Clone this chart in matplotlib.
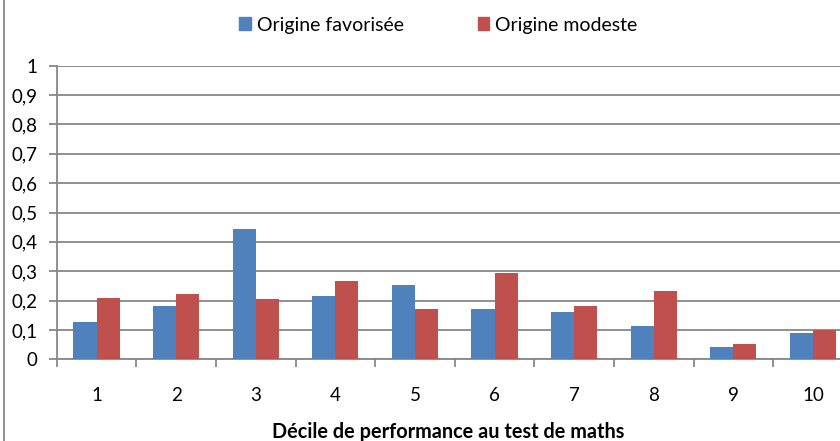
import numpy as np
import matplotlib
matplotlib.use("Agg")
import matplotlib.pyplot as plt
from matplotlib.patches import Patch
from matplotlib.lines import Line2D

plt.rcParams['font.family'] = ['Lato', 'DejaVu Sans']

deciles = ['1', '2', '3', '4', '5', '6', '7', '8', '9', '10']
favorisee = [0.127, 0.181, 0.444, 0.215, 0.253, 0.171, 0.161, 0.113, 0.042, 0.090]
modeste = [0.209, 0.222, 0.205, 0.266, 0.171, 0.294, 0.181, 0.233, 0.052, 0.100]
yticks = [0, 0.1, 0.2, 0.3, 0.4, 0.5, 0.6, 0.7, 0.8, 0.9, 1]
ylabels = ['0', '0,1', '0,2', '0,3', '0,4', '0,5', '0,6', '0,7', '0,8', '0,9', '1']

blue = '#4F81BD'
red = '#C0504D'
grey = '#878787'

fig = plt.figure(figsize=(8.4, 4.41), dpi=100)
ax = fig.add_axes([56.7 / 840, 1 - 359.3 / 441, 796 / 840, 293.6 / 441])

x = np.arange(len(deciles))
w = 0.29
ax.bar(x - w / 2, favorisee, w, color=blue, zorder=3)
ax.bar(x + w / 2, modeste, w, color=red, zorder=3)

ax.set_xlim(-0.5, len(deciles) - 0.5)
ax.set_ylim(0, 1)
ax.set_yticks(yticks)
ax.set_yticklabels(ylabels, fontsize=13.5)
ax.yaxis.grid(True, color=grey, linewidth=1.3, zorder=0)

# category ticks between groups, labels at the centres
ax.set_xticks(np.arange(len(deciles) + 1) - 0.5)
ax.set_xticklabels([])
ax.set_xticks(x, minor=True)
ax.set_xticklabels(deciles, minor=True, fontsize=13.5)
ax.tick_params(axis='x', which='major', length=6, width=1.3, color=grey)
ax.tick_params(axis='x', which='minor', length=0, pad=20)
ax.tick_params(axis='y', length=6, width=1.3, color=grey, pad=8)

for s in ['top', 'right']:
    ax.spines[s].set_visible(False)
for s in ['left', 'bottom']:
    ax.spines[s].set_color(grey)
    ax.spines[s].set_linewidth(1.3)

fig.text(448 / 840, 1 - 432 / 441, 'Décile de performance au test de maths',
         ha='center', va='center', fontsize=14.3, fontweight='bold')

handles = [Patch(color=blue, label='Origine favorisée'),
           Patch(color=red, label='Origine modeste')]
fig.legend(handles=handles, loc='center', bbox_to_anchor=(438.5 / 840, 1 - 25 / 441),
           ncol=2, frameon=False, fontsize=14, handlelength=0.6, handleheight=0.6,
           handletextpad=0.3, columnspacing=3.8)

fig.add_artist(Line2D([3.5 / 840, 3.5 / 840], [0, 1], color=grey, linewidth=1.3))

fig.savefig('out.png', dpi=100)
